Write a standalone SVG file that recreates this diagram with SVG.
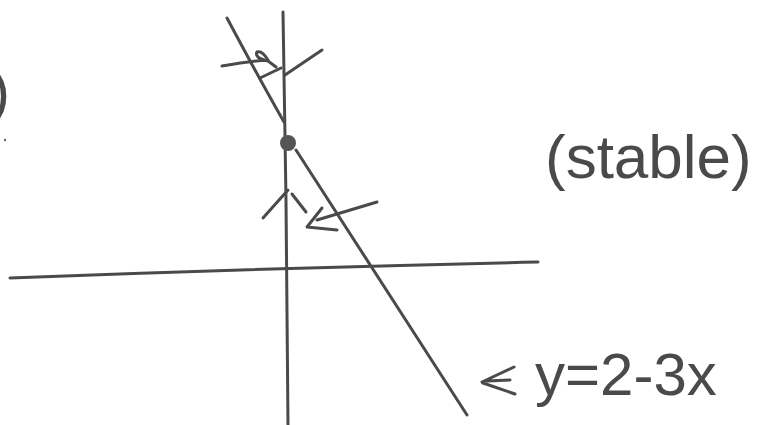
<svg xmlns="http://www.w3.org/2000/svg" width="759" height="425" viewBox="0 0 759 425">
<style>
.ln{fill:none;stroke:#4a4a4a;stroke-width:3;stroke-linecap:round;stroke-linejoin:round}
.tx{font-family:"Liberation Sans",Arial,sans-serif;fill:#4a4a4a}
</style>
<rect width="759" height="425" fill="#ffffff"/>
<g id="axes">
<path class="ln" d="M283 12 Q285 120 286 200 Q287 320 288 425"/>
<path class="ln" d="M10 278 Q270 268 538 262"/>
</g>
<g id="line">
<path class="ln" d="M227 18 Q260 80 284 122 M296 150 Q380 280 467 415"/>
</g>
<g id="equilibrium">
<circle cx="288" cy="143" r="8" fill="#555"/>
</g>
<g id="connectors">
<path class="ln" d="M222 66 Q250 61 268 60 Q262 50 257 52 Q254 58 268 61 L276 67"/>
<path class="ln" d="M260 78 L281 68 M285 75 L322 50"/>
<path class="ln" d="M263 218 L288 190 M292 194 L306 212"/>
<path class="ln" d="M377 202 L317 220 M322 208 L307 227 L337 230"/>
<path class="ln" d="M482 382 L514 367 M483 383 L515 394 M487 381 L510 380"/>
</g>
<g id="labels">
<text class="tx" x="-10" y="112" font-size="60">)</text>
<circle cx="5" cy="140" r="1.2" fill="#666"/>
<text class="tx" x="545" y="178" font-size="62">(stable)</text>
<text class="tx" x="535" y="395" font-size="60">y=2-3x</text>
</g>
</svg>
